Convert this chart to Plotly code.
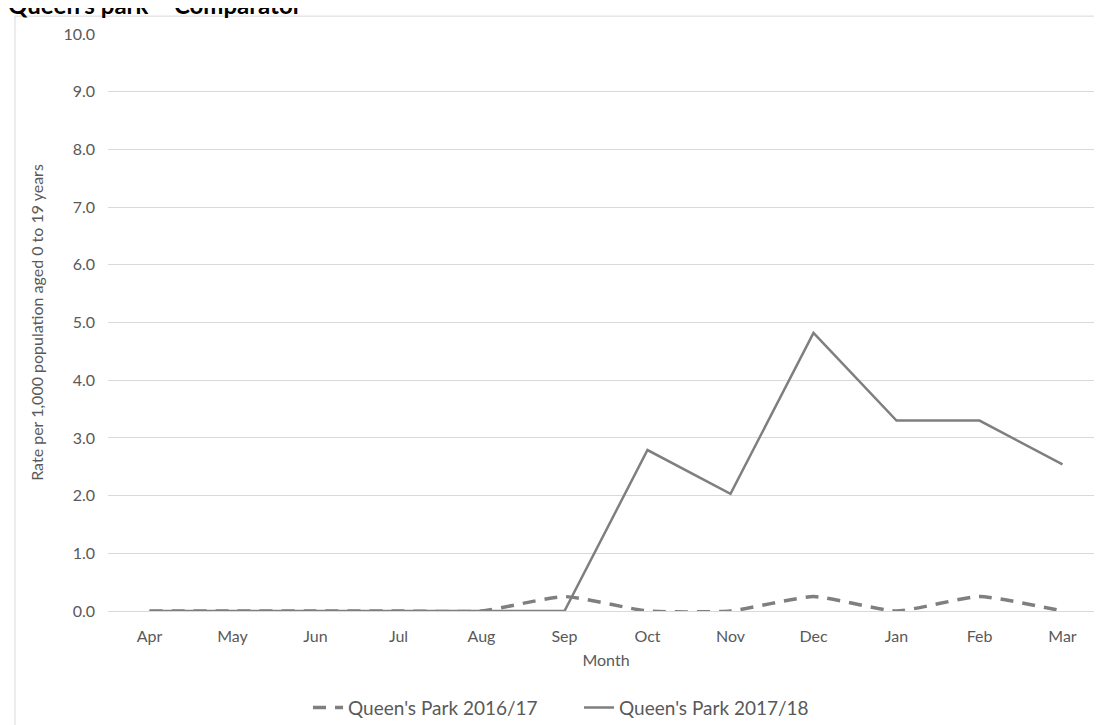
import plotly.graph_objects as go

# dane
months = ["Apr", "May", "Jun", "Jul", "Aug", "Sep", "Oct", "Nov", "Dec", "Jan", "Feb", "Mar"]
rate_2016_17 = [0, 0, 0, 0, 0, 0.25, 0, 0, 0.25, 0, 0.25, 0]
rate_2017_18 = [0, 0, 0, 0, 0, 0, 2.79, 2.03, 4.82, 3.30, 3.30, 2.54]
y_ticks = [0, 1, 2, 3, 4, 5, 6, 7, 8, 9, 10]

W, H = 1102, 725
L, R, T, B = 100, 6, 26, 117.5
pw = W - L - R
ph = H - T - B

font_name = "Lato"
txt_col = "#595959"
line_col = "#7f7f7f"

fig = go.Figure()

fig.add_trace(go.Scatter(
    x=months, y=rate_2016_17,
    mode="lines",
    name="Queen's Park 2016/17",
    line=dict(color=line_col, width=3.5, dash="13px,9px", shape="spline", smoothing=0.5),
))

fig.add_trace(go.Scatter(
    x=months, y=rate_2017_18,
    mode="lines",
    name="Queen's Park 2017/18",
    line=dict(color=line_col, width=2.5),
))

fig.update_layout(
    width=W, height=H,
    margin=dict(l=L, r=R, t=T, b=B),
    paper_bgcolor="white",
    plot_bgcolor="white",
    font=dict(family=font_name, size=16, color=txt_col),
    showlegend=True,
    legend=dict(
        orientation="h",
        x=(300 - L) / pw, xanchor="left",
        y=-(705 - T - ph) / ph, yanchor="middle",
        font=dict(size=19, color=txt_col),
        entrywidth=226, entrywidthmode="pixels",
    ),
    xaxis=dict(
        type="category",
        range=[-0.5, 11.5],
        showgrid=False,
        showline=False,
        zeroline=False,
        ticks="",
        ticklabelstandoff=14,
        tickfont=dict(size=16, color=txt_col),
        title=dict(text="Month", font=dict(size=16, color=txt_col), standoff=10),
    ),
    yaxis=dict(
        range=[0, 10],
        tickvals=y_ticks,
        tickformat=".1f",
        showgrid=True,
        gridcolor="#d9d9d9",
        gridwidth=1,
        zeroline=True,
        zerolinecolor="#d9d9d9",
        zerolinewidth=1,
        showline=False,
        ticks="",
        ticklabelstandoff=12,
        tickfont=dict(size=16, color=txt_col),
        title=dict(text="Rate per 1,000 population aged 0 to 19 years",
                   font=dict(size=16, color=txt_col), standoff=15),
    ),
)

# ramka obszaru wykresu (lewa i gorna krawedz widoczna)
fig.add_shape(
    type="rect", xref="paper", yref="paper",
    x0=(7 - L) / pw, x1=(1115 - L) / pw,
    y0=-(740 - T - ph) / ph, y1=1 + (T - 8) / ph,
    line=dict(color="#d9d9d9", width=1),
    fillcolor="rgba(0,0,0,0)",
    layer="below",
)

# tytul nad wykresem, przyciety u gory
fig.add_annotation(
    xref="paper", yref="paper",
    x=(-2 - L) / pw, xanchor="left",
    y=1 + (T - 13) / ph, yanchor="bottom",
    text="<b>Queen's park – Comparator</b>",
    showarrow=False,
    font=dict(family=font_name, size=24, color="black"),
)

fig.write_html("out.html")
